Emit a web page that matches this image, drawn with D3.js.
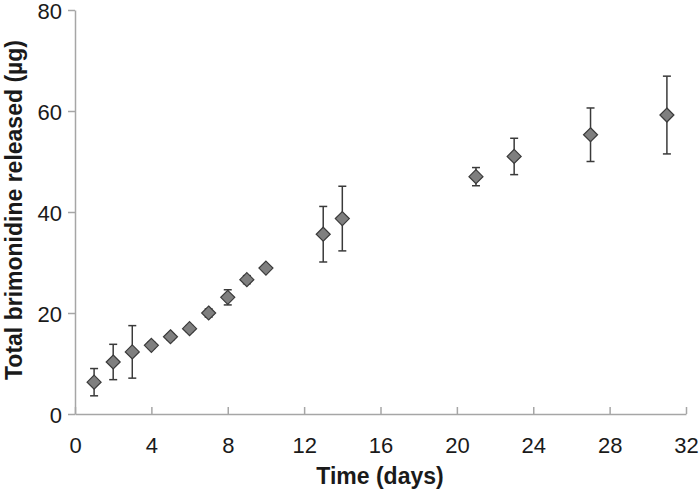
<!DOCTYPE html>
<html>
<head>
<meta charset="utf-8">
<script src="https://cdn.jsdelivr.net/npm/d3@7/dist/d3.min.js"></script>
<style>
  html, body { margin: 0; padding: 0; background: #fff; }
  svg { display: block; font-family: "Liberation Sans", Arial, sans-serif; }
</style>
</head>
<body>
<svg id="chart" width="700" height="493"></svg>
<script>
const days = [1, 2, 3, 4, 5, 6, 7, 8, 9, 10, 13, 14, 21, 23, 27, 31];
const released = [6.3, 10.3, 12.3, 13.6, 15.3, 16.9, 20.0, 23.1, 26.6, 28.9, 35.6, 38.7, 47.0, 51.0, 55.3, 59.2];
const errors = [2.7, 3.5, 5.2, 0.6, 0.6, 0.6, 0.8, 1.5, 0.8, 0.6, 5.5, 6.4, 1.8, 3.6, 5.3, 7.7];
const xTicks = [0, 4, 8, 12, 16, 20, 24, 28, 32];
const yTicks = [0, 20, 40, 60, 80];

const svg = d3.select("#chart");
const x = d3.scaleLinear().domain([0, 32]).range([75, 686]);
const y = d3.scaleLinear().domain([0, 80]).range([414, 10]);
const axisColor = "#a6a6a6";
const textColor = "#1a1a1a";

// Y axis (ticks outward)
const yAxis = svg.append("g").attr("transform", `translate(${x(0)},0)`)
  .call(d3.axisLeft(y).tickValues(yTicks).tickSize(7).tickSizeOuter(0).tickPadding(6));
yAxis.select(".domain").attr("stroke", axisColor).attr("stroke-width", 1.5);
yAxis.selectAll(".tick line").attr("stroke", axisColor).attr("stroke-width", 1.5);
yAxis.selectAll(".tick text").attr("font-size", 22).attr("fill", textColor)
  .attr("dy", "0.4em")
  .attr("font-family", "Liberation Sans, Arial, sans-serif");

// X axis (ticks inward)
const xAxis = svg.append("g").attr("transform", `translate(0,${y(0)})`)
  .call(d3.axisBottom(x).tickValues(xTicks).tickSize(-7).tickSizeOuter(0).tickPadding(23));
xAxis.select(".domain").attr("stroke", axisColor).attr("stroke-width", 1.5);
xAxis.selectAll(".tick line").attr("stroke", axisColor).attr("stroke-width", 1.5);
xAxis.selectAll(".tick text").attr("font-size", 22).attr("fill", textColor)
  .attr("font-family", "Liberation Sans, Arial, sans-serif");

// Axis titles
svg.append("text")
  .attr("x", 380).attr("y", 484)
  .attr("text-anchor", "middle")
  .attr("font-size", 23).attr("font-weight", "bold").attr("fill", textColor)
  .text("Time (days)");
svg.append("text")
  .attr("transform", "translate(21.5,210) rotate(-90)")
  .attr("text-anchor", "middle")
  .attr("font-size", 23).attr("font-weight", "bold").attr("fill", textColor)
  .text("Total brimonidine released (µg)");

const data = days.map((d, i) => ({ t: d, v: released[i], e: errors[i] }));

// Error bars
const eb = svg.append("g").attr("stroke", "#3a3a3a").attr("stroke-width", 1.5);
data.forEach(d => {
  const cx = x(d.t);
  eb.append("line").attr("x1", cx).attr("x2", cx).attr("y1", y(d.v + d.e)).attr("y2", y(d.v - d.e));
  eb.append("line").attr("x1", cx - 4).attr("x2", cx + 4).attr("y1", y(d.v + d.e)).attr("y2", y(d.v + d.e));
  eb.append("line").attr("x1", cx - 4).attr("x2", cx + 4).attr("y1", y(d.v - d.e)).attr("y2", y(d.v - d.e));
});

// Diamond markers
const s = 7;
svg.append("g").selectAll("path").data(data).join("path")
  .attr("d", d => {
    const cx = x(d.t), cy = y(d.v);
    return `M${cx},${cy - s}L${cx + s},${cy}L${cx},${cy + s}L${cx - s},${cy}Z`;
  })
  .attr("fill", "#7f7f7f")
  .attr("stroke", "#3a3a3a")
  .attr("stroke-width", 1.2);
</script>
</body>
</html>
